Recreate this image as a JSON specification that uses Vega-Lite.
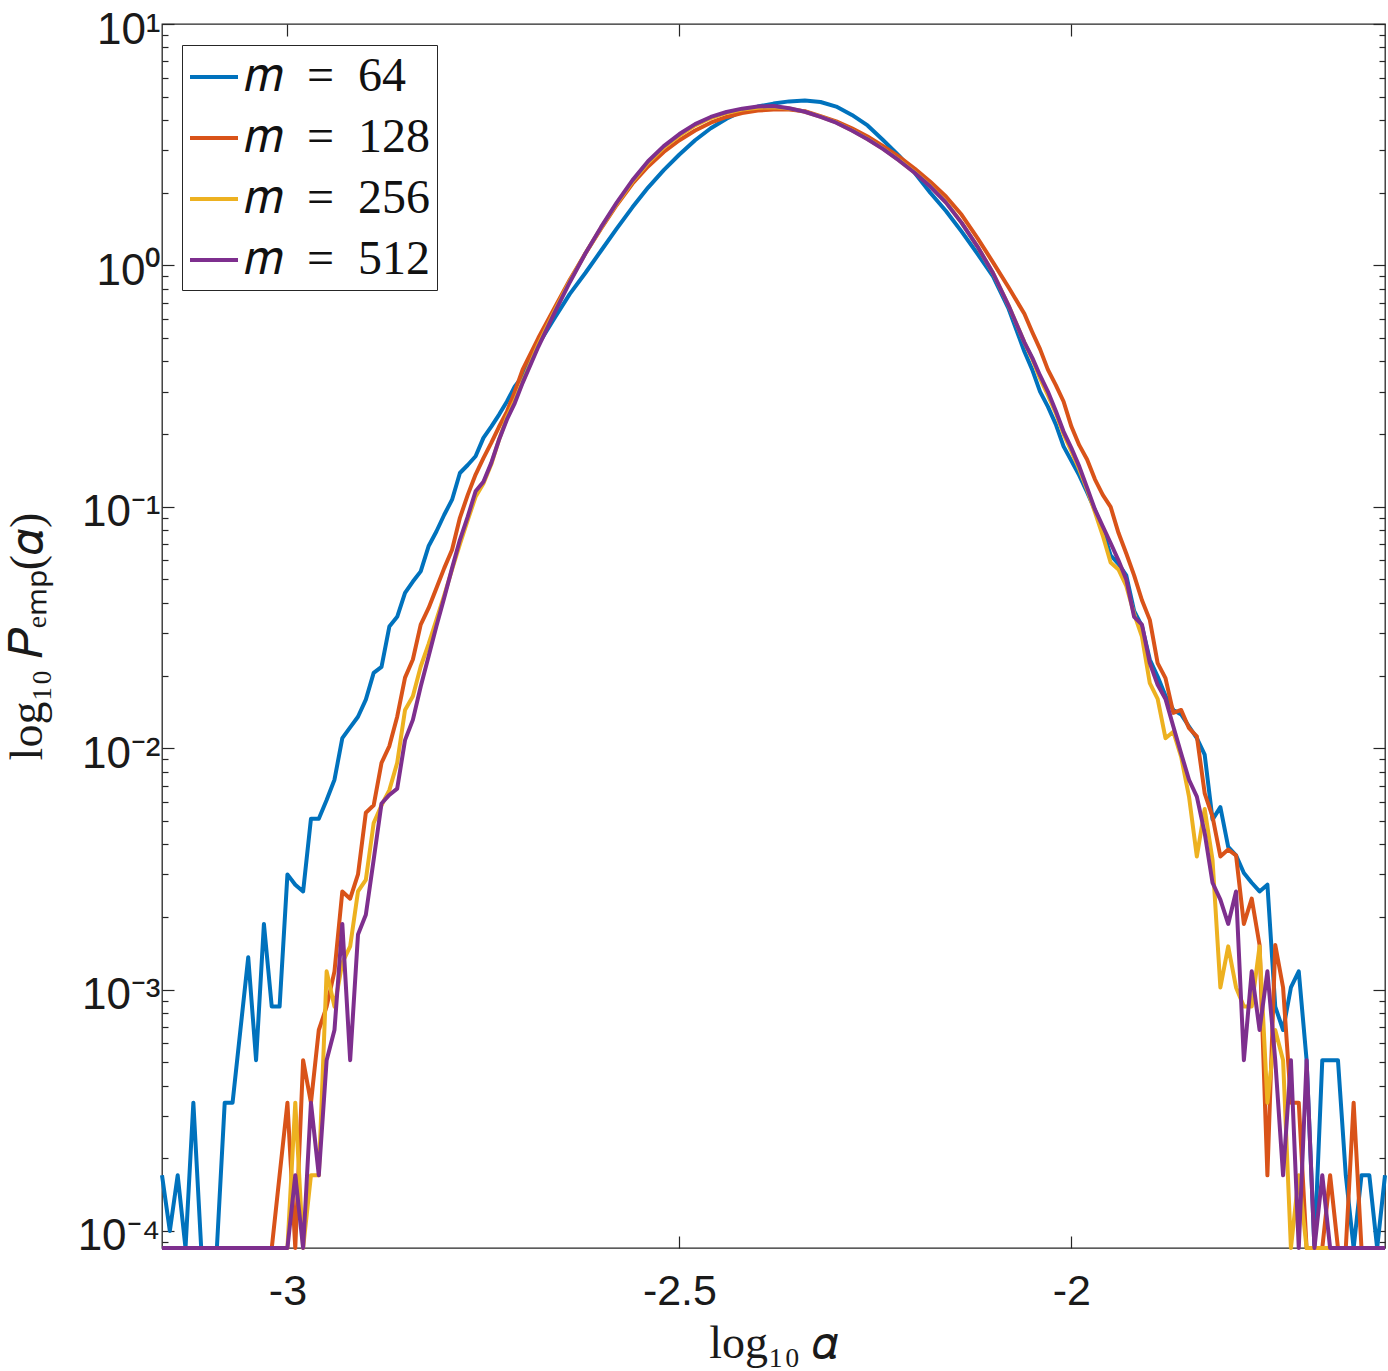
{
  "$schema": "https://vega.github.io/schema/vega-lite/v6.json",
  "width": 1223,
  "height": 1224,
  "autosize": {"type": "none"},
  "padding": {"left": 162, "top": 24, "right": 3, "bottom": 123},
  "background": "white",
  "config": {
    "font": "Liberation Sans",
    "view": {"stroke": "#262626", "strokeWidth": 1.3},
    "axis": {"domain": false, "grid": false, "tickColor": "#262626", "tickWidth": 1.2, "labelColor": "#1a1a1a", "titleColor": "#1a1a1a"}
  },
  "data": {"values": [
    {"a":-3.16,"p":0.00017,"m":64},{"a":-3.15,"p":0.0001,"m":64},{"a":-3.14,"p":0.00017,"m":64},{"a":-3.13,"p":0.000085,"m":64},{"a":-3.12,"p":0.00034,"m":64},{"a":-3.11,"p":0.000085,"m":64},{"a":-3.10,"p":0.000085,"m":64},{"a":-3.09,"p":0.000085,"m":64},{"a":-3.08,"p":0.00034,"m":64},{"a":-3.07,"p":0.00034,"m":64},{"a":-3.06,"p":0.00068,"m":64},{"a":-3.05,"p":0.00136,"m":64},{"a":-3.04,"p":0.00051,"m":64},{"a":-3.03,"p":0.00187,"m":64},{"a":-3.02,"p":0.00085,"m":64},{"a":-3.01,"p":0.00085,"m":64},{"a":-3.00,"p":0.003,"m":64},{"a":-2.99,"p":0.00272,"m":64},{"a":-2.98,"p":0.00255,"m":64},{"a":-2.97,"p":0.0051,"m":64},{"a":-2.96,"p":0.0051,"m":64},{"a":-2.95,"p":0.0061,"m":64},{"a":-2.94,"p":0.0074,"m":64},{"a":-2.93,"p":0.011,"m":64},{"a":-2.92,"p":0.0122,"m":64},{"a":-2.91,"p":0.0135,"m":64},{"a":-2.90,"p":0.0159,"m":64},{"a":-2.89,"p":0.0205,"m":64},{"a":-2.88,"p":0.0217,"m":64},{"a":-2.87,"p":0.0319,"m":64},{"a":-2.86,"p":0.035,"m":64},{"a":-2.85,"p":0.044,"m":64},{"a":-2.84,"p":0.049,"m":64},{"a":-2.83,"p":0.054,"m":64},{"a":-2.82,"p":0.0686,"m":64},{"a":-2.81,"p":0.079,"m":64},{"a":-2.80,"p":0.0927,"m":64},{"a":-2.79,"p":0.107,"m":64},{"a":-2.78,"p":0.138,"m":64},{"a":-2.77,"p":0.149,"m":64},{"a":-2.76,"p":0.162,"m":64},{"a":-2.75,"p":0.193,"m":64},{"a":-2.74,"p":0.215,"m":64},{"a":-2.73,"p":0.241,"m":64},{"a":-2.72,"p":0.273,"m":64},{"a":-2.71,"p":0.315,"m":64},{"a":-2.70,"p":0.347,"m":64},
    {"a":-2.68,"p":0.47,"m":64},{"a":-2.66,"p":0.6,"m":64},{"a":-2.64,"p":0.76,"m":64},{"a":-2.62,"p":0.93,"m":64},{"a":-2.60,"p":1.15,"m":64},{"a":-2.58,"p":1.42,"m":64},{"a":-2.56,"p":1.74,"m":64},{"a":-2.54,"p":2.1,"m":64},{"a":-2.52,"p":2.48,"m":64},{"a":-2.50,"p":2.88,"m":64},{"a":-2.48,"p":3.3,"m":64},{"a":-2.46,"p":3.7,"m":64},{"a":-2.44,"p":4.05,"m":64},{"a":-2.42,"p":4.35,"m":64},{"a":-2.40,"p":4.55,"m":64},{"a":-2.38,"p":4.68,"m":64},{"a":-2.36,"p":4.78,"m":64},{"a":-2.34,"p":4.82,"m":64},{"a":-2.32,"p":4.75,"m":64},{"a":-2.30,"p":4.55,"m":64},{"a":-2.28,"p":4.2,"m":64},{"a":-2.26,"p":3.8,"m":64},{"a":-2.24,"p":3.3,"m":64},{"a":-2.22,"p":2.85,"m":64},{"a":-2.20,"p":2.42,"m":64},{"a":-2.18,"p":2.0,"m":64},{"a":-2.16,"p":1.68,"m":64},{"a":-2.14,"p":1.38,"m":64},{"a":-2.12,"p":1.12,"m":64},{"a":-2.10,"p":0.9,"m":64},{"a":-2.08,"p":0.66,"m":64},{"a":-2.06,"p":0.44,"m":64},
    {"a":-2.05,"p":0.37,"m":64},{"a":-2.04,"p":0.3,"m":64},{"a":-2.03,"p":0.26,"m":64},{"a":-2.02,"p":0.22,"m":64},{"a":-2.01,"p":0.178,"m":64},{"a":-2.00,"p":0.155,"m":64},{"a":-1.99,"p":0.135,"m":64},{"a":-1.98,"p":0.115,"m":64},{"a":-1.97,"p":0.097,"m":64},{"a":-1.96,"p":0.08,"m":64},{"a":-1.95,"p":0.063,"m":64},{"a":-1.94,"p":0.058,"m":64},{"a":-1.93,"p":0.052,"m":64},{"a":-1.92,"p":0.037,"m":64},{"a":-1.91,"p":0.032,"m":64},{"a":-1.90,"p":0.0233,"m":64},{"a":-1.89,"p":0.0198,"m":64},{"a":-1.88,"p":0.0165,"m":64},{"a":-1.87,"p":0.0144,"m":64},{"a":-1.86,"p":0.0138,"m":64},{"a":-1.85,"p":0.0123,"m":64},{"a":-1.84,"p":0.011,"m":64},{"a":-1.83,"p":0.0094,"m":64},{"a":-1.82,"p":0.00506,"m":64},{"a":-1.81,"p":0.0057,"m":64},{"a":-1.80,"p":0.0039,"m":64},{"a":-1.79,"p":0.0036,"m":64},{"a":-1.78,"p":0.00304,"m":64},{"a":-1.77,"p":0.00277,"m":64},{"a":-1.76,"p":0.00255,"m":64},{"a":-1.75,"p":0.00272,"m":64},{"a":-1.74,"p":0.00085,"m":64},{"a":-1.73,"p":0.00068,"m":64},{"a":-1.72,"p":0.00102,"m":64},{"a":-1.71,"p":0.00119,"m":64},{"a":-1.70,"p":0.00051,"m":64},{"a":-1.69,"p":0.000085,"m":64},{"a":-1.68,"p":0.00051,"m":64},{"a":-1.67,"p":0.00051,"m":64},{"a":-1.66,"p":0.00051,"m":64},{"a":-1.65,"p":0.00017,"m":64},{"a":-1.64,"p":0.000085,"m":64},{"a":-1.63,"p":0.00017,"m":64},{"a":-1.62,"p":0.00017,"m":64},{"a":-1.61,"p":0.000085,"m":64},{"a":-1.60,"p":0.00017,"m":64},

    {"a":-3.16,"p":0.000085,"m":128},{"a":-3.15,"p":0.000085,"m":128},{"a":-3.14,"p":0.000085,"m":128},{"a":-3.13,"p":0.000085,"m":128},{"a":-3.12,"p":0.000085,"m":128},{"a":-3.11,"p":0.000085,"m":128},{"a":-3.10,"p":0.000085,"m":128},{"a":-3.09,"p":0.000085,"m":128},{"a":-3.08,"p":0.000085,"m":128},{"a":-3.07,"p":0.000085,"m":128},{"a":-3.06,"p":0.000085,"m":128},{"a":-3.05,"p":0.000085,"m":128},{"a":-3.04,"p":0.000085,"m":128},{"a":-3.03,"p":0.000085,"m":128},{"a":-3.02,"p":0.000085,"m":128},{"a":-3.01,"p":0.00017,"m":128},{"a":-3.00,"p":0.00034,"m":128},{"a":-2.99,"p":0.000085,"m":128},{"a":-2.98,"p":0.00051,"m":128},{"a":-2.97,"p":0.00034,"m":128},{"a":-2.96,"p":0.00068,"m":128},{"a":-2.95,"p":0.00085,"m":128},{"a":-2.94,"p":0.00119,"m":128},{"a":-2.93,"p":0.00255,"m":128},{"a":-2.92,"p":0.00238,"m":128},{"a":-2.91,"p":0.003,"m":128},{"a":-2.90,"p":0.0054,"m":128},{"a":-2.89,"p":0.0058,"m":128},{"a":-2.88,"p":0.0087,"m":128},{"a":-2.87,"p":0.0102,"m":128},{"a":-2.86,"p":0.0135,"m":128},{"a":-2.85,"p":0.0196,"m":128},{"a":-2.84,"p":0.0233,"m":128},{"a":-2.83,"p":0.0325,"m":128},{"a":-2.82,"p":0.038,"m":128},{"a":-2.81,"p":0.046,"m":128},{"a":-2.80,"p":0.0557,"m":128},{"a":-2.79,"p":0.0664,"m":128},{"a":-2.78,"p":0.09,"m":128},{"a":-2.77,"p":0.112,"m":128},{"a":-2.76,"p":0.136,"m":128},{"a":-2.75,"p":0.159,"m":128},{"a":-2.74,"p":0.184,"m":128},{"a":-2.73,"p":0.215,"m":128},{"a":-2.72,"p":0.248,"m":128},{"a":-2.71,"p":0.3,"m":128},{"a":-2.70,"p":0.37,"m":128},
    {"a":-2.68,"p":0.5,"m":128},{"a":-2.66,"p":0.66,"m":128},{"a":-2.64,"p":0.87,"m":128},{"a":-2.62,"p":1.12,"m":128},{"a":-2.60,"p":1.42,"m":128},{"a":-2.58,"p":1.78,"m":128},{"a":-2.56,"p":2.18,"m":128},{"a":-2.54,"p":2.57,"m":128},{"a":-2.52,"p":2.95,"m":128},{"a":-2.50,"p":3.3,"m":128},{"a":-2.48,"p":3.62,"m":128},{"a":-2.46,"p":3.9,"m":128},{"a":-2.44,"p":4.12,"m":128},{"a":-2.42,"p":4.28,"m":128},{"a":-2.40,"p":4.38,"m":128},{"a":-2.38,"p":4.42,"m":128},{"a":-2.36,"p":4.42,"m":128},{"a":-2.34,"p":4.35,"m":128},{"a":-2.32,"p":4.15,"m":128},{"a":-2.30,"p":3.95,"m":128},{"a":-2.28,"p":3.7,"m":128},{"a":-2.26,"p":3.42,"m":128},{"a":-2.24,"p":3.12,"m":128},{"a":-2.22,"p":2.82,"m":128},{"a":-2.20,"p":2.52,"m":128},{"a":-2.18,"p":2.22,"m":128},{"a":-2.16,"p":1.93,"m":128},{"a":-2.14,"p":1.62,"m":128},{"a":-2.12,"p":1.3,"m":128},{"a":-2.10,"p":1.03,"m":128},{"a":-2.08,"p":0.81,"m":128},{"a":-2.06,"p":0.63,"m":128},
    {"a":-2.05,"p":0.53,"m":128},{"a":-2.04,"p":0.45,"m":128},{"a":-2.03,"p":0.37,"m":128},{"a":-2.02,"p":0.32,"m":128},{"a":-2.01,"p":0.273,"m":128},{"a":-2.00,"p":0.215,"m":128},{"a":-1.99,"p":0.18,"m":128},{"a":-1.98,"p":0.157,"m":128},{"a":-1.97,"p":0.13,"m":128},{"a":-1.96,"p":0.112,"m":128},{"a":-1.95,"p":0.1,"m":128},{"a":-1.94,"p":0.078,"m":128},{"a":-1.93,"p":0.064,"m":128},{"a":-1.92,"p":0.052,"m":128},{"a":-1.91,"p":0.041,"m":128},{"a":-1.90,"p":0.034,"m":128},{"a":-1.89,"p":0.0225,"m":128},{"a":-1.88,"p":0.0195,"m":128},{"a":-1.87,"p":0.014,"m":128},{"a":-1.86,"p":0.0144,"m":128},{"a":-1.85,"p":0.0121,"m":128},{"a":-1.84,"p":0.0112,"m":128},{"a":-1.83,"p":0.0065,"m":128},{"a":-1.82,"p":0.0052,"m":128},{"a":-1.81,"p":0.00356,"m":128},{"a":-1.80,"p":0.0038,"m":128},{"a":-1.79,"p":0.0036,"m":128},{"a":-1.78,"p":0.00187,"m":128},{"a":-1.77,"p":0.00238,"m":128},{"a":-1.76,"p":0.00153,"m":128},{"a":-1.75,"p":0.00017,"m":128},{"a":-1.74,"p":0.00153,"m":128},{"a":-1.73,"p":0.00102,"m":128},{"a":-1.72,"p":0.00034,"m":128},{"a":-1.71,"p":0.00034,"m":128},{"a":-1.70,"p":0.000085,"m":128},{"a":-1.69,"p":0.000085,"m":128},{"a":-1.68,"p":0.000085,"m":128},{"a":-1.67,"p":0.00017,"m":128},{"a":-1.66,"p":0.000085,"m":128},{"a":-1.65,"p":0.000085,"m":128},{"a":-1.64,"p":0.00034,"m":128},{"a":-1.63,"p":0.000085,"m":128},{"a":-1.62,"p":0.000085,"m":128},{"a":-1.61,"p":0.000085,"m":128},{"a":-1.60,"p":0.000085,"m":128},

    {"a":-3.16,"p":0.000085,"m":256},{"a":-3.15,"p":0.000085,"m":256},{"a":-3.14,"p":0.000085,"m":256},{"a":-3.13,"p":0.000085,"m":256},{"a":-3.12,"p":0.000085,"m":256},{"a":-3.11,"p":0.000085,"m":256},{"a":-3.10,"p":0.000085,"m":256},{"a":-3.09,"p":0.000085,"m":256},{"a":-3.08,"p":0.000085,"m":256},{"a":-3.07,"p":0.000085,"m":256},{"a":-3.06,"p":0.000085,"m":256},{"a":-3.05,"p":0.000085,"m":256},{"a":-3.04,"p":0.000085,"m":256},{"a":-3.03,"p":0.000085,"m":256},{"a":-3.02,"p":0.000085,"m":256},{"a":-3.01,"p":0.000085,"m":256},{"a":-3.00,"p":0.000085,"m":256},{"a":-2.99,"p":0.00034,"m":256},{"a":-2.98,"p":0.000085,"m":256},{"a":-2.97,"p":0.00017,"m":256},{"a":-2.96,"p":0.00017,"m":256},{"a":-2.95,"p":0.00119,"m":256},{"a":-2.94,"p":0.00085,"m":256},{"a":-2.93,"p":0.00129,"m":256},{"a":-2.92,"p":0.00151,"m":256},{"a":-2.91,"p":0.00255,"m":256},{"a":-2.90,"p":0.00285,"m":256},{"a":-2.89,"p":0.0049,"m":256},{"a":-2.88,"p":0.0058,"m":256},{"a":-2.87,"p":0.0067,"m":256},{"a":-2.86,"p":0.0087,"m":256},{"a":-2.85,"p":0.0144,"m":256},{"a":-2.84,"p":0.0164,"m":256},{"a":-2.83,"p":0.0218,"m":256},{"a":-2.82,"p":0.027,"m":256},{"a":-2.81,"p":0.034,"m":256},{"a":-2.80,"p":0.043,"m":256},{"a":-2.79,"p":0.055,"m":256},{"a":-2.78,"p":0.07,"m":256},{"a":-2.77,"p":0.088,"m":256},{"a":-2.76,"p":0.11,"m":256},{"a":-2.75,"p":0.125,"m":256},{"a":-2.74,"p":0.15,"m":256},{"a":-2.73,"p":0.19,"m":256},{"a":-2.72,"p":0.235,"m":256},{"a":-2.71,"p":0.275,"m":256},{"a":-2.70,"p":0.33,"m":256},
    {"a":-2.68,"p":0.47,"m":256},{"a":-2.66,"p":0.64,"m":256},{"a":-2.64,"p":0.86,"m":256},{"a":-2.62,"p":1.12,"m":256},{"a":-2.60,"p":1.43,"m":256},{"a":-2.58,"p":1.8,"m":256},{"a":-2.56,"p":2.22,"m":256},{"a":-2.54,"p":2.66,"m":256},{"a":-2.52,"p":3.08,"m":256},{"a":-2.50,"p":3.45,"m":256},{"a":-2.48,"p":3.8,"m":256},{"a":-2.46,"p":4.08,"m":256},{"a":-2.44,"p":4.28,"m":256},{"a":-2.42,"p":4.42,"m":256},{"a":-2.40,"p":4.5,"m":256},{"a":-2.38,"p":4.52,"m":256},{"a":-2.36,"p":4.47,"m":256},{"a":-2.34,"p":4.33,"m":256},{"a":-2.32,"p":4.13,"m":256},{"a":-2.30,"p":3.91,"m":256},{"a":-2.28,"p":3.63,"m":256},{"a":-2.26,"p":3.34,"m":256},{"a":-2.24,"p":3.04,"m":256},{"a":-2.22,"p":2.73,"m":256},{"a":-2.20,"p":2.43,"m":256},{"a":-2.18,"p":2.13,"m":256},{"a":-2.16,"p":1.83,"m":256},{"a":-2.14,"p":1.5,"m":256},{"a":-2.12,"p":1.2,"m":256},{"a":-2.10,"p":0.93,"m":256},{"a":-2.08,"p":0.68,"m":256},{"a":-2.06,"p":0.48,"m":256},
    {"a":-2.05,"p":0.41,"m":256},{"a":-2.04,"p":0.34,"m":256},{"a":-2.03,"p":0.29,"m":256},{"a":-2.02,"p":0.245,"m":256},{"a":-2.01,"p":0.2,"m":256},{"a":-2.00,"p":0.17,"m":256},{"a":-1.99,"p":0.143,"m":256},{"a":-1.98,"p":0.118,"m":256},{"a":-1.97,"p":0.095,"m":256},{"a":-1.96,"p":0.076,"m":256},{"a":-1.95,"p":0.0588,"m":256},{"a":-1.94,"p":0.055,"m":256},{"a":-1.93,"p":0.047,"m":256},{"a":-1.92,"p":0.036,"m":256},{"a":-1.91,"p":0.029,"m":256},{"a":-1.90,"p":0.0186,"m":256},{"a":-1.89,"p":0.016,"m":256},{"a":-1.88,"p":0.011,"m":256},{"a":-1.87,"p":0.0117,"m":256},{"a":-1.86,"p":0.0092,"m":256},{"a":-1.85,"p":0.0063,"m":256},{"a":-1.84,"p":0.00356,"m":256},{"a":-1.83,"p":0.0056,"m":256},{"a":-1.82,"p":0.00345,"m":256},{"a":-1.81,"p":0.00102,"m":256},{"a":-1.80,"p":0.00151,"m":256},{"a":-1.79,"p":0.00102,"m":256},{"a":-1.78,"p":0.00085,"m":256},{"a":-1.77,"p":0.00085,"m":256},{"a":-1.76,"p":0.00151,"m":256},{"a":-1.75,"p":0.00034,"m":256},{"a":-1.74,"p":0.00068,"m":256},{"a":-1.73,"p":0.00051,"m":256},{"a":-1.72,"p":0.000085,"m":256},{"a":-1.71,"p":0.00017,"m":256},{"a":-1.70,"p":0.000085,"m":256},{"a":-1.69,"p":0.000085,"m":256},{"a":-1.68,"p":0.000085,"m":256},{"a":-1.67,"p":0.000085,"m":256},{"a":-1.66,"p":0.000085,"m":256},{"a":-1.65,"p":0.000085,"m":256},{"a":-1.64,"p":0.000085,"m":256},{"a":-1.63,"p":0.000085,"m":256},{"a":-1.62,"p":0.000085,"m":256},{"a":-1.61,"p":0.000085,"m":256},{"a":-1.60,"p":0.000085,"m":256},

    {"a":-3.16,"p":0.000085,"m":512},{"a":-3.15,"p":0.000085,"m":512},{"a":-3.14,"p":0.000085,"m":512},{"a":-3.13,"p":0.000085,"m":512},{"a":-3.12,"p":0.000085,"m":512},{"a":-3.11,"p":0.000085,"m":512},{"a":-3.10,"p":0.000085,"m":512},{"a":-3.09,"p":0.000085,"m":512},{"a":-3.08,"p":0.000085,"m":512},{"a":-3.07,"p":0.000085,"m":512},{"a":-3.06,"p":0.000085,"m":512},{"a":-3.05,"p":0.000085,"m":512},{"a":-3.04,"p":0.000085,"m":512},{"a":-3.03,"p":0.000085,"m":512},{"a":-3.02,"p":0.000085,"m":512},{"a":-3.01,"p":0.000085,"m":512},{"a":-3.00,"p":0.000085,"m":512},{"a":-2.99,"p":0.00017,"m":512},{"a":-2.98,"p":0.000085,"m":512},{"a":-2.97,"p":0.00034,"m":512},{"a":-2.96,"p":0.00017,"m":512},{"a":-2.95,"p":0.00051,"m":512},{"a":-2.94,"p":0.00068,"m":512},{"a":-2.93,"p":0.00187,"m":512},{"a":-2.92,"p":0.00051,"m":512},{"a":-2.91,"p":0.00169,"m":512},{"a":-2.90,"p":0.00204,"m":512},{"a":-2.89,"p":0.00345,"m":512},{"a":-2.88,"p":0.0059,"m":512},{"a":-2.87,"p":0.0064,"m":512},{"a":-2.86,"p":0.0068,"m":512},{"a":-2.85,"p":0.0108,"m":512},{"a":-2.84,"p":0.0131,"m":512},{"a":-2.83,"p":0.018,"m":512},{"a":-2.82,"p":0.024,"m":512},{"a":-2.81,"p":0.032,"m":512},{"a":-2.80,"p":0.042,"m":512},{"a":-2.79,"p":0.0557,"m":512},{"a":-2.78,"p":0.073,"m":512},{"a":-2.77,"p":0.091,"m":512},{"a":-2.76,"p":0.116,"m":512},{"a":-2.75,"p":0.127,"m":512},{"a":-2.74,"p":0.152,"m":512},{"a":-2.73,"p":0.19,"m":512},{"a":-2.72,"p":0.23,"m":512},{"a":-2.71,"p":0.269,"m":512},{"a":-2.70,"p":0.326,"m":512},
    {"a":-2.68,"p":0.46,"m":512},{"a":-2.66,"p":0.63,"m":512},{"a":-2.64,"p":0.85,"m":512},{"a":-2.62,"p":1.12,"m":512},{"a":-2.60,"p":1.44,"m":512},{"a":-2.58,"p":1.82,"m":512},{"a":-2.56,"p":2.25,"m":512},{"a":-2.54,"p":2.7,"m":512},{"a":-2.52,"p":3.12,"m":512},{"a":-2.50,"p":3.5,"m":512},{"a":-2.48,"p":3.85,"m":512},{"a":-2.46,"p":4.12,"m":512},{"a":-2.44,"p":4.32,"m":512},{"a":-2.42,"p":4.46,"m":512},{"a":-2.40,"p":4.55,"m":512},{"a":-2.38,"p":4.57,"m":512},{"a":-2.36,"p":4.48,"m":512},{"a":-2.34,"p":4.33,"m":512},{"a":-2.32,"p":4.12,"m":512},{"a":-2.30,"p":3.9,"m":512},{"a":-2.28,"p":3.62,"m":512},{"a":-2.26,"p":3.33,"m":512},{"a":-2.24,"p":3.03,"m":512},{"a":-2.22,"p":2.72,"m":512},{"a":-2.20,"p":2.42,"m":512},{"a":-2.18,"p":2.12,"m":512},{"a":-2.16,"p":1.82,"m":512},{"a":-2.14,"p":1.5,"m":512},{"a":-2.12,"p":1.2,"m":512},{"a":-2.10,"p":0.93,"m":512},{"a":-2.08,"p":0.68,"m":512},{"a":-2.06,"p":0.48,"m":512},
    {"a":-2.05,"p":0.415,"m":512},{"a":-2.04,"p":0.35,"m":512},{"a":-2.03,"p":0.3,"m":512},{"a":-2.02,"p":0.25,"m":512},{"a":-2.01,"p":0.205,"m":512},{"a":-2.00,"p":0.175,"m":512},{"a":-1.99,"p":0.147,"m":512},{"a":-1.98,"p":0.12,"m":512},{"a":-1.97,"p":0.0975,"m":512},{"a":-1.96,"p":0.083,"m":512},{"a":-1.95,"p":0.0708,"m":512},{"a":-1.94,"p":0.06,"m":512},{"a":-1.93,"p":0.05,"m":512},{"a":-1.92,"p":0.035,"m":512},{"a":-1.91,"p":0.0325,"m":512},{"a":-1.90,"p":0.0225,"m":512},{"a":-1.89,"p":0.0183,"m":512},{"a":-1.88,"p":0.016,"m":512},{"a":-1.87,"p":0.0123,"m":512},{"a":-1.86,"p":0.0095,"m":512},{"a":-1.85,"p":0.0074,"m":512},{"a":-1.84,"p":0.0063,"m":512},{"a":-1.83,"p":0.00445,"m":512},{"a":-1.82,"p":0.00277,"m":512},{"a":-1.81,"p":0.00236,"m":512},{"a":-1.80,"p":0.00187,"m":512},{"a":-1.79,"p":0.00255,"m":512},{"a":-1.78,"p":0.00051,"m":512},{"a":-1.77,"p":0.00119,"m":512},{"a":-1.76,"p":0.00068,"m":512},{"a":-1.75,"p":0.00119,"m":512},{"a":-1.74,"p":0.00051,"m":512},{"a":-1.73,"p":0.00017,"m":512},{"a":-1.72,"p":0.00051,"m":512},{"a":-1.71,"p":0.000085,"m":512},{"a":-1.70,"p":0.00051,"m":512},{"a":-1.69,"p":0.000085,"m":512},{"a":-1.68,"p":0.00017,"m":512},{"a":-1.67,"p":0.000085,"m":512},{"a":-1.66,"p":0.000085,"m":512},{"a":-1.65,"p":0.000085,"m":512},{"a":-1.64,"p":0.000085,"m":512},{"a":-1.63,"p":0.000085,"m":512},{"a":-1.62,"p":0.000085,"m":512},{"a":-1.61,"p":0.000085,"m":512},{"a":-1.60,"p":0.000085,"m":512}
  ]},
  "resolve": {"axis": {"x": "independent", "y": "independent"}},
  "layer": [
    {
      "mark": {"type": "line", "opacity": 0},
      "encoding": {
        "x": {"field": "a", "type": "quantitative", "scale": {"domain": [-3.16, -1.6], "nice": false, "zero": false},
              "axis": {"orient": "top", "values": [-3, -2.5, -2], "tickSize": -12, "labels": false, "title": null}},
        "y": {"field": "p", "type": "quantitative", "scale": {"type": "log", "domain": [0.000085, 10], "nice": false},
              "axis": {"orient": "right", "values": [0.0001, 0.001, 0.01, 0.1, 1, 10], "tickSize": -12, "labels": false, "title": null}},
        "detail": {"field": "m", "type": "nominal"}
      }
    },
    {
      "mark": {"type": "line", "opacity": 0},
      "encoding": {
        "x": {"field": "a", "type": "quantitative", "axis": null},
        "y": {"field": "p", "type": "quantitative",
              "axis": {"orient": "left", "values": [0.00009, 0.0002, 0.0003, 0.0004, 0.0005, 0.0006, 0.0007, 0.0008, 0.0009, 0.002, 0.003, 0.004, 0.005, 0.006, 0.007, 0.008, 0.009, 0.02, 0.03, 0.04, 0.05, 0.06, 0.07, 0.08, 0.09, 0.2, 0.3, 0.4, 0.5, 0.6, 0.7, 0.8, 0.9, 2, 3, 4, 5, 6, 7, 8, 9], "tickSize": -6, "labels": false, "title": null}},
        "detail": {"field": "m", "type": "nominal"}
      }
    },
    {
      "mark": {"type": "line", "opacity": 0},
      "encoding": {
        "x": {"field": "a", "type": "quantitative", "axis": null},
        "y": {"field": "p", "type": "quantitative",
              "axis": {"orient": "right", "values": [0.00009, 0.0002, 0.0003, 0.0004, 0.0005, 0.0006, 0.0007, 0.0008, 0.0009, 0.002, 0.003, 0.004, 0.005, 0.006, 0.007, 0.008, 0.009, 0.02, 0.03, 0.04, 0.05, 0.06, 0.07, 0.08, 0.09, 0.2, 0.3, 0.4, 0.5, 0.6, 0.7, 0.8, 0.9, 2, 3, 4, 5, 6, 7, 8, 9], "tickSize": -6, "labels": false, "title": null}},
        "detail": {"field": "m", "type": "nominal"}
      }
    },
    {
      "mark": {"type": "line", "strokeWidth": 4, "strokeJoin": "round"},
      "encoding": {
        "x": {"field": "a", "type": "quantitative",
              "axis": {"orient": "bottom", "values": [-3, -2.5, -2], "tickSize": -12, "labelExpr": "'' + datum.value",
                       "labelFont": "Liberation Sans", "labelFontSize": 43, "labelPadding": 34,
                       "title": "log₁₀ 𝛼", "titleFont": "Liberation Serif", "titleFontSize": 46, "titleFontWeight": "normal", "titlePadding": 8}},
        "y": {"field": "p", "type": "quantitative",
              "axis": {"orient": "left", "values": [0.0001, 0.001, 0.01, 0.1, 1, 10], "tickSize": -12,
                       "labelExpr": "datum.value >= 5 ? '10¹' : datum.value >= 0.5 ? '10⁰' : datum.value >= 0.05 ? '10⁻¹' : datum.value >= 0.005 ? '10⁻²' : datum.value >= 0.0005 ? '10⁻³' : '10⁻⁴'",
                       "labelFont": "Liberation Sans", "labelFontSize": 44, "labelPadding": 14, "labelOffset": 6, "labelFlush": false,
                       "title": "log₁₀ 𝑃ₑₘₚ(𝛼)", "titleFont": "Liberation Serif", "titleFontSize": 46, "titleFontWeight": "normal", "titlePadding": 26}},
        "color": {"field": "m", "type": "nominal",
                  "scale": {"domain": [64, 128, 256, 512], "range": ["#0072BD", "#D95319", "#EDB120", "#7E2F8E"]},
                  "legend": {"orient": "none", "legendX": 20, "legendY": 21, "title": null,
                             "symbolType": "stroke", "symbolSize": 2304, "symbolStrokeWidth": 4,
                             "labelExpr": "'𝑚\u2002=\u2002' + datum.label", "labelFont": "Liberation Serif", "labelFontSize": 48, "labelColor": "#111111", "labelLimit": 400,
                             "labelOffset": 4, "rowPadding": 11, "padding": 6, "fillColor": "white", "strokeColor": "#262626"}}
      }
    }
  ]
}
